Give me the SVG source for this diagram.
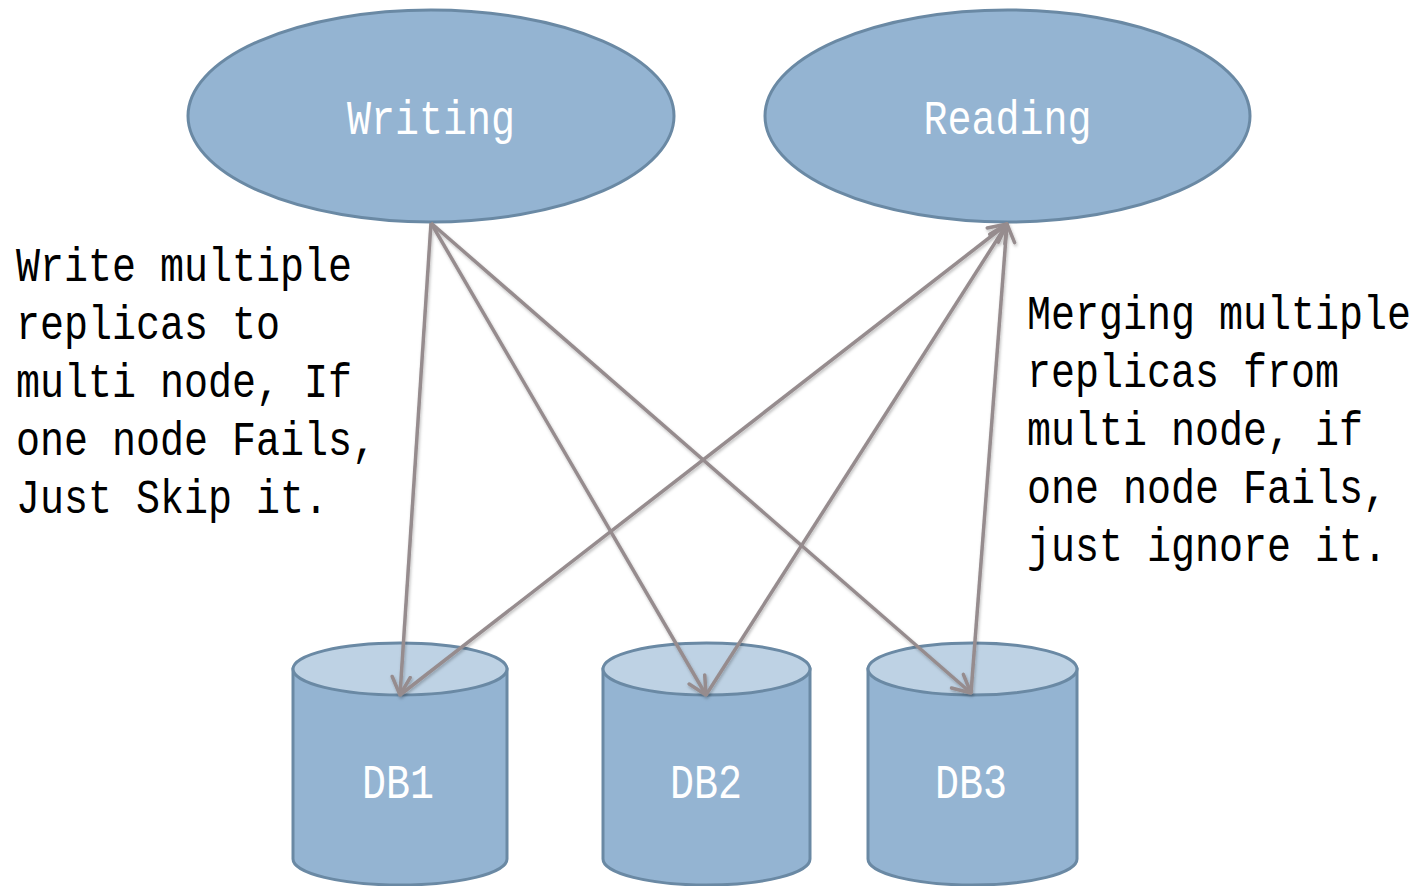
<svg xmlns="http://www.w3.org/2000/svg" width="1419" height="886" viewBox="0 0 1419 886">
<style>
.node{fill:#94B4D2;stroke:#6A89A4;stroke-width:3}
.top{fill:#BED2E4;stroke:#6A89A4;stroke-width:3}
.lbl{font-family:"Liberation Mono","DejaVu Sans Mono",monospace;font-size:40px;fill:#FFFFFF;text-anchor:middle}
.note{font-family:"Liberation Mono","DejaVu Sans Mono",monospace;font-size:40px;fill:#000000}
.edge{fill:none;stroke:#968C8E;stroke-width:3.5;marker-end:url(#arr)}
</style>
<defs>
<marker id="arr" viewBox="0 0 22 22" refX="20" refY="11" markerWidth="22" markerHeight="22" markerUnits="userSpaceOnUse" orient="auto">
<path d="M2,2 L20,11 L2,20" fill="none" stroke="#968C8E" stroke-width="3.5" stroke-linecap="round" stroke-linejoin="round"/>
</marker>
<filter id="sh" x="-10%" y="-10%" width="120%" height="120%">
<feDropShadow dx="1" dy="2" stdDeviation="1.5" flood-color="#000" flood-opacity="0.25"/>
</filter>
</defs>
<rect width="1419" height="886" fill="#FFFFFF"/>

<g id="writing">
<ellipse class="node" cx="431" cy="116" rx="243" ry="106"/>
<text class="lbl" transform="translate(431,134) scale(1,1.2)">Writing</text>
</g>
<g id="reading">
<ellipse class="node" cx="1007.5" cy="116" rx="242.5" ry="106"/>
<text class="lbl" transform="translate(1007.5,134) scale(1,1.2)">Reading</text>
</g>

<g id="db1">
<path class="node" d="M293,669 L293,859 A107,26 0 0 0 507,859 L507,669 Z"/>
<ellipse class="top" cx="400" cy="669" rx="107" ry="26"/>
<text class="lbl" transform="translate(398,798) scale(1,1.2)">DB1</text>
</g>
<g id="db2">
<path class="node" d="M603,669 L603,859 A103.5,26 0 0 0 810,859 L810,669 Z"/>
<ellipse class="top" cx="706.5" cy="669" rx="103.5" ry="26"/>
<text class="lbl" transform="translate(706,798) scale(1,1.2)">DB2</text>
</g>
<g id="db3">
<path class="node" d="M868,669 L868,859 A104.5,26 0 0 0 1077,859 L1077,669 Z"/>
<ellipse class="top" cx="972.5" cy="669" rx="104.5" ry="26"/>
<text class="lbl" transform="translate(971,798) scale(1,1.2)">DB3</text>
</g>

<g id="connectors" filter="url(#sh)">
<line class="edge" x1="431" y1="223" x2="400" y2="695"/>
<line class="edge" x1="431" y1="223" x2="706" y2="695"/>
<line class="edge" x1="431" y1="223" x2="971" y2="693"/>
<line class="edge" x1="400" y1="695" x2="1007" y2="224"/>
<line class="edge" x1="706" y1="695" x2="1007" y2="224"/>
<line class="edge" x1="971" y1="693" x2="1007" y2="224"/>
</g>

<g id="note-left">
<text class="note" transform="translate(16,281) scale(1,1.2)">Write multiple</text>
<text class="note" transform="translate(16,339) scale(1,1.2)">replicas to</text>
<text class="note" transform="translate(16,397) scale(1,1.2)">multi node, If</text>
<text class="note" transform="translate(16,455) scale(1,1.2)">one node Fails,</text>
<text class="note" transform="translate(16,513) scale(1,1.2)">Just Skip it.</text>
</g>
<g id="note-right">
<text class="note" transform="translate(1027,329) scale(1,1.2)">Merging multiple</text>
<text class="note" transform="translate(1027,387) scale(1,1.2)">replicas from</text>
<text class="note" transform="translate(1027,445) scale(1,1.2)">multi node, if</text>
<text class="note" transform="translate(1027,503) scale(1,1.2)">one node Fails,</text>
<text class="note" transform="translate(1027,561) scale(1,1.2)">just ignore it.</text>
</g>
</svg>
